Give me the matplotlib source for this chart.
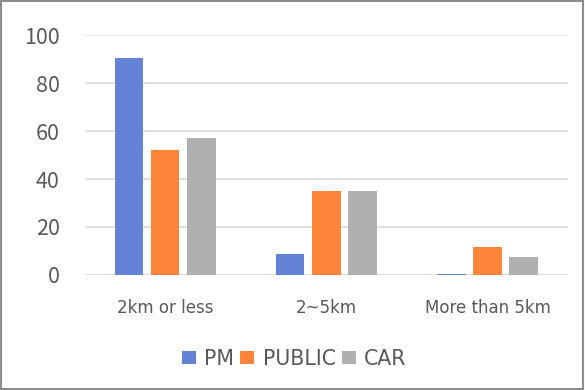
import numpy as np
import matplotlib.pyplot as plt
from matplotlib.patches import Rectangle

plt.rcParams['font.family'] = ['Noto Sans CJK KR', 'DejaVu Sans']

categories = ['2km or less', '2~5km', 'More than 5km']
series = ['PM', 'PUBLIC', 'CAR']
pm = [90.6, 8.6, 0.5]
public = [52.2, 35.2, 11.7]
car = [57.3, 34.8, 7.6]
colors = ['#6383d7', '#fd853a', '#b0b0b0']
yticks = [0, 20, 40, 60, 80, 100]

fig = plt.figure(figsize=(5.85, 3.9), dpi=100)
ax = fig.add_axes([0.145, 0.295, 0.826, 0.615])

x = np.arange(len(categories))
width = 0.175
step = 0.224
for i, (name, vals) in enumerate(zip(series, [pm, public, car])):
    ax.bar(x + (i - 1) * step, vals, width, color=colors[i], label=name, zorder=3)

ax.set_xlim(-0.5, 2.5)
ax.set_ylim(0, 100)
ax.set_yticks(yticks)
ax.set_xticks(x)
ax.set_xticklabels(categories, family='DejaVu Sans', fontsize=12)
ax.grid(axis='y', color='#d9d9d9', linewidth=1.2, zorder=0)
for s in ax.spines.values():
    s.set_visible(False)
ax.tick_params(axis='both', length=0, colors='#595959')
ax.tick_params(axis='y', labelsize=15.5, pad=18)
ax.tick_params(axis='x', pad=17.5)

leg = fig.legend(loc='center', bbox_to_anchor=(0.503, 0.08), ncol=3, frameon=False,
                 prop={'family': 'DejaVu Sans', 'size': 14.8},
                 handlelength=0.68, handleheight=0.62, handletextpad=0.4,
                 columnspacing=0.3, labelcolor='#595959')

fig.patches.append(Rectangle((0.002, 0.003), 0.995, 0.994, transform=fig.transFigure,
                             fill=False, edgecolor='#8c8c8c', linewidth=1.5))

fig.savefig('out.png', dpi=100)
